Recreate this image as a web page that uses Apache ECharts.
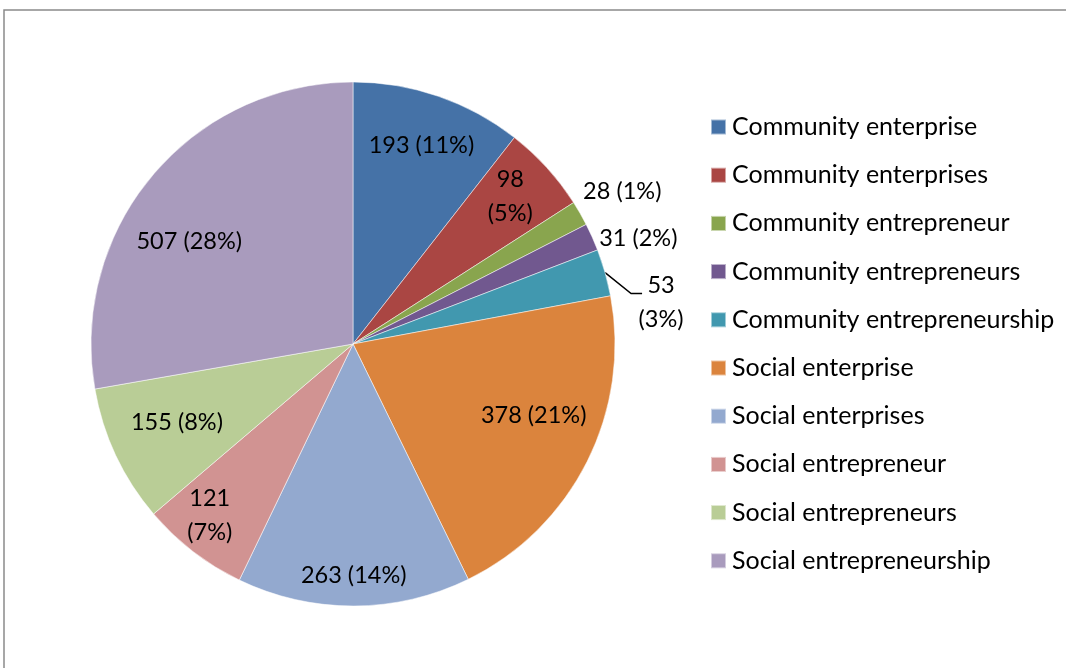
<!DOCTYPE html>
<html>
<head>
<meta charset="utf-8">
<script src="https://cdn.jsdelivr.net/npm/echarts@6/dist/echarts.min.js"></script>
<style>
html, body { margin: 0; padding: 0; background: #fff; }
#chart { width: 1066px; height: 668px; }
</style>
</head>
<body>
<div id="chart"></div>
<script>
// categories and counts
var names = ['Community enterprise', 'Community enterprises', 'Community entrepreneur',
	'Community entrepreneurs', 'Community entrepreneurship', 'Social enterprise',
	'Social enterprises', 'Social entrepreneur', 'Social entrepreneurs', 'Social entrepreneurship'];
var values = [193, 98, 28, 31, 53, 378, 263, 121, 155, 507];
var colors = ['#4572A7', '#AA4643', '#89A54E', '#71588F', '#4198AF',
	'#DB843D', '#93A9CF', '#D19392', '#B9CD96', '#A99BBD'];
// slices labelled outside the pie
var outsideNames = ['Community entrepreneur', 'Community entrepreneurs', 'Community entrepreneurship'];
// labels broken on two lines
var wrapNames = ['Community enterprises', 'Community entrepreneurship', 'Social entrepreneur'];

// small label nudges (px), like excel's best fit placement
var innerNudge = {
	'Community enterprises': [2, -6],
	'Social enterprise': [-7, -23],
	'Social enterprises': [0, 21],
	'Social entrepreneur': [-15, 5],
	'Social entrepreneurs': [14, -11],
	'Social entrepreneurship': [-3, 33]
};
var outsideNudge = {
	'Community entrepreneur': [3, -22],
	'Community entrepreneurs': [7, 1]
};

var font = 'Lato';
var labelSize = 23.5;
var legendSize = 25;
var cx = 353, cy = 344, R = 262;

var myChart = echarts.init(document.getElementById('chart'));

var mainData = [];
var labelData = [];
for (var i = 0; i < names.length; i++) {
	var wrap = wrapNames.indexOf(names[i]) >= 0;
	var isOut = outsideNames.indexOf(names[i]) >= 0;
	var fmt = wrap ? '{c}\n({d}%)' : '{c} ({d}%)';
	if (wrap && isOut) fmt = '{w|{c}}\n{w|({d}%)}';
	mainData.push({
		name: names[i],
		value: values[i],
		itemStyle: { color: colors[i] },
		label: { show: isOut, formatter: fmt },
		labelLine: {
			show: isOut,
			lineStyle: { color: names[i] == 'Community entrepreneurship' ? '#000' : 'rgba(0,0,0,0)' }
		}
	});
	labelData.push({
		name: names[i],
		value: values[i],
		label: { show: !isOut, formatter: fmt }
	});
}

var legendData = [];
for (var j = 0; j < names.length; j++) {
	legendData.push({ name: names[j], itemStyle: { color: colors[j] } });
}

var option = {
	animation: false,
	color: colors,
	graphic: [{
		type: 'rect',
		shape: { x: 4, y: 10, width: 1100, height: 700 },
		style: { fill: 'none', stroke: '#8a8a8a', lineWidth: 1.5 },
		silent: true
	}],
	legend: {
		orient: 'vertical',
		left: 710,
		top: 114,
		padding: 0,
		itemWidth: 15,
		itemHeight: 15,
		itemGap: 22.2,
		icon: 'rect',
		selectedMode: false,
		data: legendData,
		textStyle: { fontFamily: font, fontSize: legendSize, lineHeight: 26, color: '#000', padding: [0, 0, 0, 1] }
	},
	series: [
		{
			type: 'pie',
			center: [cx, cy],
			radius: [0, R],
			startAngle: 90,
			clockwise: true,
			percentPrecision: 0,
			avoidLabelOverlap: false,
			silent: true,
			itemStyle: { borderColor: 'rgba(255,255,255,0.5)', borderWidth: 1 },
			label: {
				position: 'outside',
				fontFamily: font,
				fontSize: labelSize,
				color: '#000',
				lineHeight: 34,
				rich: { w: { width: 48, align: 'center', fontFamily: font, fontSize: labelSize, lineHeight: 34 } }
			},
			labelLine: { length: 10, length2: 6, lineStyle: { width: 1.5 } },
			labelLayout: function (p) {
				var n = names[p.dataIndex];
				var a = p.labelLinePoints ? p.labelLinePoints[0] : null;
				if (!a) return {};
				if (n == 'Community entrepreneurship') {
					var b = [a[0] + 26, a[1] + 21];
					var c = [b[0] + 11, b[1]];
					return { x: c[0] - 5, y: c[1] + 9, align: 'left', verticalAlign: 'middle', labelLinePoints: [a, b, c] };
				}
				var nd = outsideNudge[n];
				if (nd) return { x: a[0] + nd[0], y: a[1] + nd[1], align: 'left', verticalAlign: 'middle' };
				return {};
			},
			data: mainData
		},
		{
			type: 'pie',
			center: [cx, cy],
			radius: [152, R],
			startAngle: 90,
			clockwise: true,
			percentPrecision: 0,
			avoidLabelOverlap: false,
			silent: true,
			itemStyle: { color: 'rgba(0,0,0,0)' },
			label: {
				position: 'inside',
				fontFamily: font,
				fontSize: labelSize,
				color: '#000',
				lineHeight: 34
			},
			labelLine: { show: false },
			labelLayout: function (p) {
				var nd = innerNudge[names[p.dataIndex]];
				if (!nd) return {};
				var r = p.labelRect;
				return { x: r.x + r.width / 2 + nd[0], y: r.y + r.height / 2 + nd[1], align: 'center', verticalAlign: 'middle' };
			},
			data: labelData
		}
	]
};
myChart.setOption(option);
</script>
</body>
</html>
